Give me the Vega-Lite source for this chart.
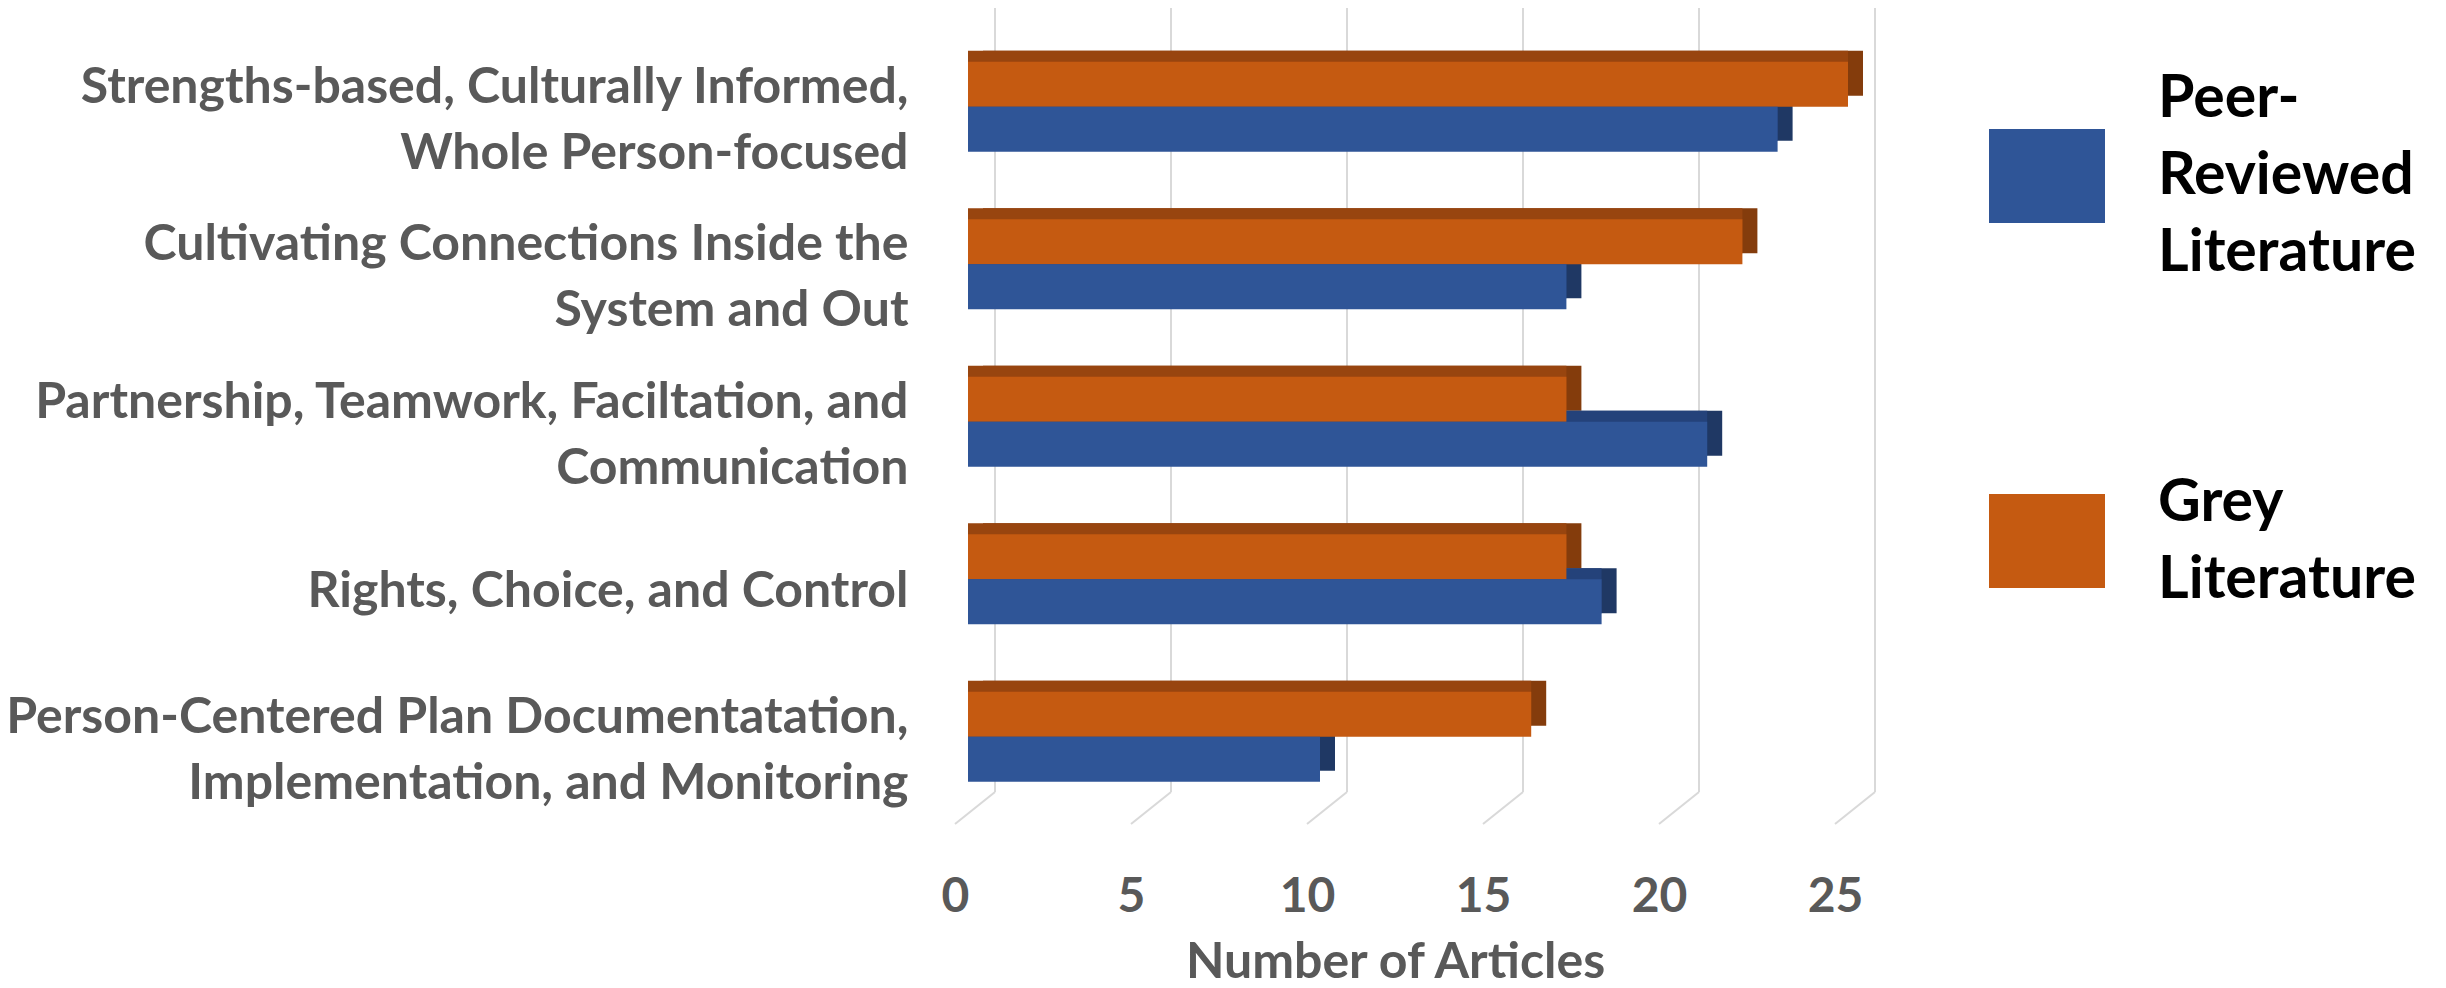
{
  "$schema": "https://vega.github.io/schema/vega-lite/v6.json",
  "width": 880,
  "height": 784,
  "autosize": {"type": "none"},
  "padding": {"left": 968, "top": 8, "right": 598, "bottom": 196},
  "background": "white",
  "config": {"font": "Lato", "view": {"stroke": null}},
  "datasets": {
    "articles": [
      {"category": "Strengths-based, Culturally Informed,\nWhole Person-focused", "series": "Peer-Reviewed Literature", "value": 23},
      {"category": "Strengths-based, Culturally Informed,\nWhole Person-focused", "series": "Grey Literature", "value": 25},
      {"category": "Cultivating Connections Inside the\nSystem and Out", "series": "Peer-Reviewed Literature", "value": 17},
      {"category": "Cultivating Connections Inside the\nSystem and Out", "series": "Grey Literature", "value": 22},
      {"category": "Partnership, Teamwork, Faciltation, and\nCommunication", "series": "Peer-Reviewed Literature", "value": 21},
      {"category": "Partnership, Teamwork, Faciltation, and\nCommunication", "series": "Grey Literature", "value": 17},
      {"category": "Rights, Choice, and Control", "series": "Peer-Reviewed Literature", "value": 18},
      {"category": "Rights, Choice, and Control", "series": "Grey Literature", "value": 17},
      {"category": "Person-Centered Plan Documentatation,\nImplementation, and Monitoring", "series": "Peer-Reviewed Literature", "value": 10},
      {"category": "Person-Centered Plan Documentatation,\nImplementation, and Monitoring", "series": "Grey Literature", "value": 16}
    ],
    "ticks": [{"value": 0}, {"value": 5}, {"value": 10}, {"value": 15}, {"value": 20}, {"value": 25}]
  },
  "data": {"name": "articles"},
  "encoding": {
    "x": {
      "field": "value", "type": "quantitative",
      "scale": {"domain": [0, 25], "nice": false, "zero": true},
      "axis": {
        "values": [0, 5, 10, 15, 20, 25], "grid": false, "domain": false, "ticks": false,
        "labelFlush": false, "labelOverlap": false, "labelOffset": -13, "labelPadding": 81,
        "labelFont": "Lato", "labelFontWeight": "bold", "labelFontSize": 48, "labelColor": "#595959",
        "title": "Number of Articles", "titleFont": "Lato", "titleFontWeight": "bold", "titleFontSize": 50,
        "titleColor": "#595959", "titlePadding": 16, "titleX": 427, "titleBaseline": "top"
      }
    }
  },
  "layer": [
    {
      "data": {"name": "ticks"},
      "mark": {"type": "rule", "color": "#D9D9D9", "strokeWidth": 2, "xOffset": 27}
    },
    {
      "data": {"name": "ticks"},
      "mark": {"type": "rule", "color": "#D9D9D9", "strokeWidth": 2, "xOffset": 27, "x2Offset": -13, "y2Offset": 32},
      "encoding": {"x2": {"field": "value"}, "y": {"value": "height"}, "y2": {"value": "height"}}
    },
    {
      "transform": [{"filter": "datum.series === 'Grey Literature'"}],
      "mark": {"type": "bar", "size": 45, "color": "#843C0C", "xOffset": 15, "x2Offset": 15, "yOffset": -33.5},
      "encoding": {
        "y": {"field": "category", "type": "nominal", "sort": null,
          "scale": {"paddingInner": 0.4286, "paddingOuter": 0.2033, "align": 0.84},
          "axis": {"title": null, "domain": false, "ticks": false, "labelFont": "Lato", "labelFontWeight": "bold",
            "labelFontSize": 50, "labelColor": "#595959", "labelLineHeight": 66, "labelPadding": 60,
            "labelOffset": {"condition": {"test": "indexof(datum.value, '\\n') >= 0", "value": -19}, "value": 13},
            "labelLimit": 1000, "labelExpr": "split(datum.value, '\\n')"}}
      }
    },
    {
      "transform": [{"filter": "datum.series === 'Grey Literature'"}],
      "mark": {"type": "bar", "size": 45, "color": "#98450F", "xOffset": 0, "x2Offset": 15, "yOffset": -33.5},
      "encoding": {"y": {"field": "category", "type": "nominal", "sort": null}}
    },
    {
      "transform": [{"filter": "datum.series === 'Peer-Reviewed Literature'"}],
      "mark": {"type": "bar", "size": 45, "color": "#1F3864", "xOffset": 15, "x2Offset": 15, "yOffset": 11.5},
      "encoding": {"y": {"field": "category", "type": "nominal", "sort": null}}
    },
    {
      "transform": [{"filter": "datum.series === 'Peer-Reviewed Literature'"}],
      "mark": {"type": "bar", "size": 45, "color": "#24427A", "xOffset": 0, "x2Offset": 15, "yOffset": 11.5},
      "encoding": {"y": {"field": "category", "type": "nominal", "sort": null}}
    },
    {
      "transform": [{"filter": "datum.series === 'Grey Literature'"}],
      "mark": {"type": "bar", "size": 45, "yOffset": -22.5},
      "encoding": {
        "y": {"field": "category", "type": "nominal", "sort": null},
        "color": {"field": "series", "type": "nominal",
          "scale": {"domain": ["Peer-Reviewed Literature", "Grey Literature"], "range": ["#2F5597", "#C55A11"]},
          "legend": {"orient": "none", "legendX": 1021, "legendY": 110, "title": null, "padding": 0,
            "symbolType": "M-1,-0.81H1V0.81H-1Z", "symbolSize": 13456, "symbolStrokeWidth": 0, "symbolOpacity": 1,
            "labelFont": "Lato", "labelFontWeight": "bold", "labelFontSize": 59, "labelColor": "#000000",
            "labelOffset": 53, "rowPadding": 190, "labelLimit": 600,
            "labelExpr": "datum.label == 'Peer-Reviewed Literature' ? ['Peer-', 'Reviewed', 'Literature'] : ['Grey', 'Literature']",
            "encode": {"labels": {"update": {
              "lineHeight": {"value": 77},
              "dy": {"signal": "datum.value === 'Peer-Reviewed Literature' ? -77 : -38.5"}
            }}}}}
      }
    },
    {
      "transform": [{"filter": "datum.series === 'Peer-Reviewed Literature'"}],
      "mark": {"type": "bar", "size": 45, "yOffset": 22.5},
      "encoding": {
        "y": {"field": "category", "type": "nominal", "sort": null},
        "color": {"field": "series", "type": "nominal"}
      }
    }
  ]
}
